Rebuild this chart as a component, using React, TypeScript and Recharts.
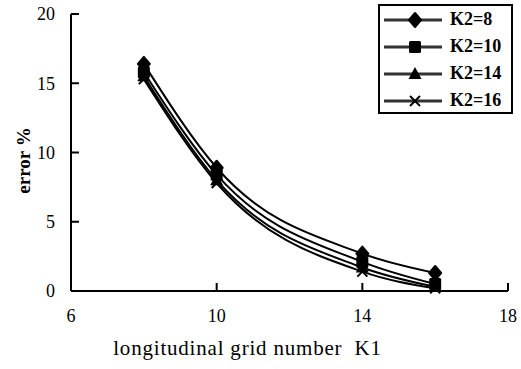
import { LineChart, Line, XAxis, YAxis, Label } from 'recharts'

const k1Values = [8, 10, 14, 16]
const seriesNames = ['K2=8', 'K2=10', 'K2=14', 'K2=16']
const errK2_8 = [16.4, 8.9, 2.7, 1.3]
const errK2_10 = [15.8, 8.4, 2.1, 0.5]
const errK2_14 = [15.5, 8.0, 1.7, 0.3]
const errK2_16 = [15.3, 7.8, 1.4, 0.2]
const xTicks = [6, 10, 14, 18]
const yTicks = [0, 5, 10, 15, 20]

const seriesKeys = ['k8', 'k10', 'k14', 'k16']
const markers = ['diamond', 'square', 'triangle', 'cross']

const data = k1Values.map((k1, i) => ({
  k1,
  k8: errK2_8[i],
  k10: errK2_10[i],
  k14: errK2_14[i],
  k16: errK2_16[i],
}))

const font = '"Liberation Serif", "Times New Roman", serif'

function Marker({ kind, cx, cy }: { kind: string; cx: number; cy: number }) {
  if (kind === 'diamond') {
    return (
      <path
        d={`M${cx},${cy - 7} L${cx + 6},${cy} L${cx},${cy + 7} L${cx - 6},${cy} Z`}
        fill="#000"
        stroke="#000"
        strokeWidth={2}
        strokeLinejoin="round"
      />
    )
  }
  if (kind === 'square') {
    return <rect x={cx - 6} y={cy - 6} width={12} height={12} rx={1.5} fill="#000" />
  }
  if (kind === 'triangle') {
    return <path d={`M${cx},${cy - 7} L${cx + 6.5},${cy + 5} L${cx - 6.5},${cy + 5} Z`} fill="#000" />
  }
  return (
    <g stroke="#000" strokeWidth={2}>
      <line x1={cx - 5} y1={cy - 5} x2={cx + 5} y2={cy + 5} />
      <line x1={cx - 5} y1={cy + 5} x2={cx + 5} y2={cy - 5} />
    </g>
  )
}

const makeDot = (kind: string) => (props: any) => {
  const { cx, cy, index } = props
  if (cx == null || cy == null) return <g key={index} />
  return (
    <g key={`${kind}-${index}`}>
      <Marker kind={kind} cx={cx} cy={cy} />
    </g>
  )
}

const LegendBox = () => (
  <div
    style={{
      position: 'absolute',
      left: 378,
      top: 4,
      width: 135,
      height: 110,
      border: '2px solid #000',
      background: '#fff',
      fontFamily: font,
      boxSizing: 'border-box',
    }}
  >
    {seriesNames.map((name, i) => (
      <div key={name} style={{ display: 'flex', alignItems: 'center', height: 27 }}>
        <svg width={62} height={20} style={{ marginLeft: 3 }}>
          <line x1={1} y1={10} x2={59} y2={10} stroke="#333" strokeWidth={3} />
          <Marker kind={markers[i]} cx={32} cy={10} />
        </svg>
        <span style={{ fontSize: 18, fontWeight: 'bold', marginLeft: 5, color: '#000' }}>{name}</span>
      </div>
    ))}
  </div>
)

const XTitle = (props: any) => {
  const { x, y, width, height } = props.viewBox
  return (
    <text
      x={x + width / 2 - 42}
      y={y + height + 34}
      textAnchor="middle"
      fill="#000"
      fontSize={21}
      fontFamily={font}
      letterSpacing={0.8}
      xmlSpace="preserve"
      style={{ whiteSpace: 'pre' }}
    >
      longitudinal grid number  K1
    </text>
  )
}

const YTitle = (props: any) => {
  const { y, height } = props.viewBox
  const cx = 30
  const cy = y + height / 2 + 8
  return (
    <text
      x={cx}
      y={cy}
      transform={`rotate(-90 ${cx} ${cy})`}
      textAnchor="middle"
      fill="#000"
      fontSize={19}
      fontWeight="bold"
      fontFamily={font}
      style={{ whiteSpace: 'pre' }}
    >
      error %
    </text>
  )
}

export default function App() {
  return (
    <div style={{ position: 'absolute', left: 0, top: 0, width: 521, height: 369, background: '#fff' }}>
      <LineChart width={521} height={369} data={data} margin={{ top: 14, right: 13, bottom: 48, left: 31 }}>
        <XAxis
          dataKey="k1"
          type="number"
          domain={[6, 18]}
          ticks={xTicks}
          height={30}
          stroke="#000"
          strokeWidth={2}
          tickSize={-8}
          tickMargin={26}
          tickLine={{ stroke: '#000', strokeWidth: 2 }}
          tick={{ fill: '#000', fontSize: 18, fontFamily: font }}
        >
          <Label content={<XTitle />} />
        </XAxis>
        <YAxis
          type="number"
          domain={[0, 20]}
          ticks={yTicks}
          width={40}
          stroke="#000"
          strokeWidth={2}
          tickSize={-8}
          tickMargin={24}
          tickLine={{ stroke: '#000', strokeWidth: 2 }}
          tick={{ fill: '#000', fontSize: 18, fontFamily: font }}
        >
          <Label content={<YTitle />} />
        </YAxis>
        {seriesKeys.map((key, i) => (
          <Line
            key={key}
            dataKey={key}
            name={seriesNames[i]}
            type="monotone"
            stroke="#000"
            strokeWidth={2}
            dot={makeDot(markers[i])}
            activeDot={false}
            isAnimationActive={false}
          />
        ))}
      </LineChart>
      <LegendBox />
    </div>
  )
}
